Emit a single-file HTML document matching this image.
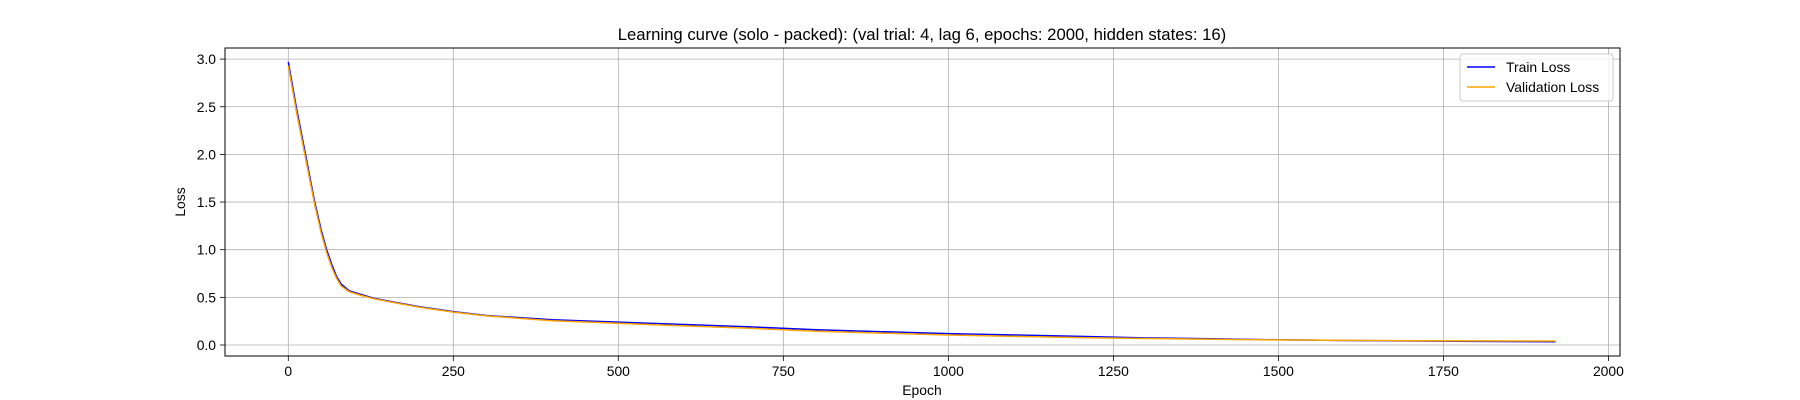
<!DOCTYPE html>
<html><head><meta charset="utf-8"><style>
html,body{margin:0;padding:0;background:#fff;}
svg{display:block;font-family:"Liberation Sans","DejaVu Sans",sans-serif;}
</style></head><body>
<svg id="chart" width="1800" height="400" viewBox="0 0 1800 400">
<rect x="0" y="0" width="1800" height="400" fill="#fff"/>
<g id="grid"></g>
<g id="series"></g>
<rect x="225" y="48" width="1395" height="308" fill="none" stroke="#000" stroke-width="1"/>
<g id="ticks"></g>
<text x="922" y="40" text-anchor="middle" font-size="16.7">Learning curve (solo - packed): (val trial: 4, lag 6, epochs: 2000, hidden states: 16)</text>
<text x="922" y="395" text-anchor="middle" font-size="13.9">Epoch</text>
<text transform="translate(185,202) rotate(-90)" text-anchor="middle" font-size="13.9">Loss</text>
<g>
<rect x="1460" y="54" width="153" height="47" rx="3" fill="#fff" fill-opacity="0.8" stroke="#ccc"/>
<line x1="1467" y1="67" x2="1495" y2="67" stroke="blue" stroke-width="1.5"/>
<text x="1506" y="72" font-size="13.9">Train Loss</text>
<line x1="1467" y1="87" x2="1495" y2="87" stroke="orange" stroke-width="1.5"/>
<text x="1506" y="92" font-size="13.9">Validation Loss</text>
</g>
</svg>
<script>
const epochs = [0,12,26,40,50,58,66,73,80,92,110,130,160,200,250,300,400,500,600,700,800,900,1000,1100,1200,1300,1400,1500,1600,1700,1800,1920];
const trainLoss = [2.97,2.5,2.0,1.5,1.2,1.0,0.84,0.72,0.64,0.57,0.53,0.49,0.45,0.4,0.35,0.31,0.265,0.24,0.215,0.19,0.16,0.14,0.12,0.105,0.09,0.075,0.065,0.055,0.047,0.042,0.038,0.035];
const valLoss = [2.93,2.46,1.96,1.47,1.17,0.97,0.81,0.7,0.62,0.56,0.52,0.485,0.445,0.395,0.345,0.305,0.255,0.228,0.2,0.175,0.145,0.125,0.105,0.09,0.078,0.068,0.06,0.053,0.048,0.045,0.043,0.042];
const xTicks = [0,250,500,750,1000,1250,1500,1750,2000];
const yTicks = [0,0.5,1.0,1.5,2.0,2.5,3.0];
const yTickLabels = ["0.0","0.5","1.0","1.5","2.0","2.5","3.0"];

const NS = "http://www.w3.org/2000/svg";
function xs(v){ return 288.3 + v * (1608.4 - 288.3) / 2000; }
function ys(v){ return 345 - v * 95.3; }
function mk(tag, attrs, parent){ const e=document.createElementNS(NS,tag); for(const k in attrs) e.setAttribute(k,attrs[k]); parent.appendChild(e); return e; }
const grid=document.getElementById('grid'), ticks=document.getElementById('ticks'), series=document.getElementById('series');
xTicks.forEach(t=>{
  const x=xs(t);
  const g=mk('line',{x1:x,x2:x,y1:48,y2:356,stroke:'#b0b0b0','stroke-width':0.8},grid);
  
  
  const tk=mk('line',{x1:x,x2:x,y1:356,y2:361,stroke:'#000','stroke-width':0.8},ticks);
  
  
  const lb=mk('text',{x:x,y:376,'text-anchor':'middle','font-size':13.9},ticks);
  lb.textContent=String(t);
  
  
});
yTicks.forEach((t,i)=>{
  const y=ys(t);
  const g=mk('line',{x1:225,x2:1620,y1:y,y2:y,stroke:'#b0b0b0','stroke-width':0.8},grid);
  
  
  const tk=mk('line',{x1:220,x2:225,y1:y,y2:y,stroke:'#000','stroke-width':0.8},ticks);
  
  
  const lb=mk('text',{x:216,y:y+5,'text-anchor':'end','font-size':13.9},ticks);
  lb.textContent=yTickLabels[i];
  
  
});
function pts(vals){ return epochs.map((e,i)=>xs(e).toFixed(1)+','+ys(vals[i]).toFixed(1)).join(' '); }
const tl=mk('polyline',{points:pts(trainLoss),fill:'none',stroke:'blue','stroke-width':1.5,'stroke-linejoin':'round'},series);


const vl=mk('polyline',{points:pts(valLoss),fill:'none',stroke:'orange','stroke-width':1.5,'stroke-linejoin':'round'},series);


</script>
</body></html>
